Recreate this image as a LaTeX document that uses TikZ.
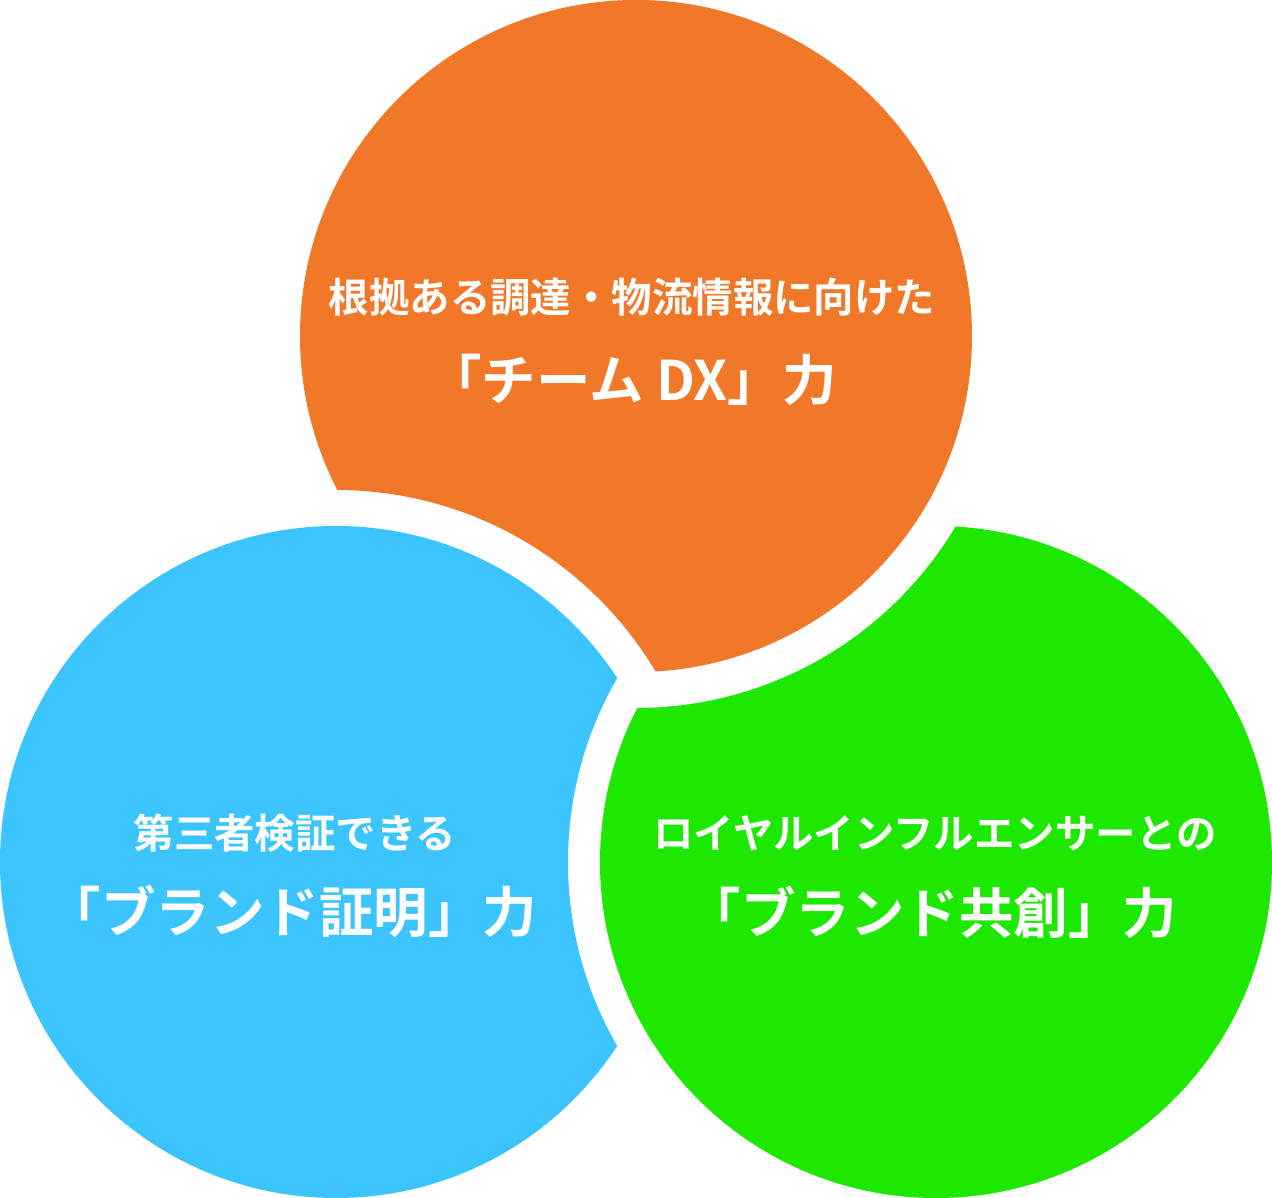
\documentclass[tikz,border=0pt]{standalone}
\usepackage{fontspec}
\setmainfont{Noto Sans CJK JP Bold}
\definecolor{dxorange}{HTML}{F07828}
\definecolor{proofblue}{HTML}{3CC4FF}
\definecolor{cocreategreen}{HTML}{1DE800}
\tikzset{
    small label/.style={text=white, font=\fontsize{11.5}{13}\selectfont},
    big label/.style={text=white, font=\fontsize{15.5}{18}\selectfont}
}

\begin{document}
\begin{tikzpicture}
    \useasboundingbox (0,0) rectangle (12.72,11.98);

    % each circle is cut by the next one, with a white gap
    \begin{scope}[even odd rule]
        \clip (-1,-1) rectangle (14,13) (3.36,3.36) circle (3.72);
        \fill[dxorange] (6.36,8.62) circle (3.36);
    \end{scope}
    \begin{scope}[even odd rule]
        \clip (-1,-1) rectangle (14,13) (9.36,3.36) circle (3.68);
        \fill[proofblue] (3.36,3.36) circle (3.36);
    \end{scope}
    \begin{scope}[even odd rule]
        \clip (-1,-1) rectangle (14,13) (6.36,8.62) circle (3.72);
        \fill[cocreategreen] (9.36,3.36) circle (3.36);
    \end{scope}

    \node[small label] (dxtop) at (6.32,9.01) {根拠ある調達・物流情報に向けた};
    \node[big label] (dxmain) at (6.32,8.18) {「チーム DX」力};

    \node[small label] (prooftop) at (2.95,3.65) {第三者検証できる};
    \node[big label] (proofmain) at (2.92,2.86) {「ブランド証明」力};

    \node[small label] (cotop) at (9.35,3.65) {ロイヤルインフルエンサーとの};
    \node[big label] (comain) at (9.32,2.86) {「ブランド共創」力};
\end{tikzpicture}
\end{document}
